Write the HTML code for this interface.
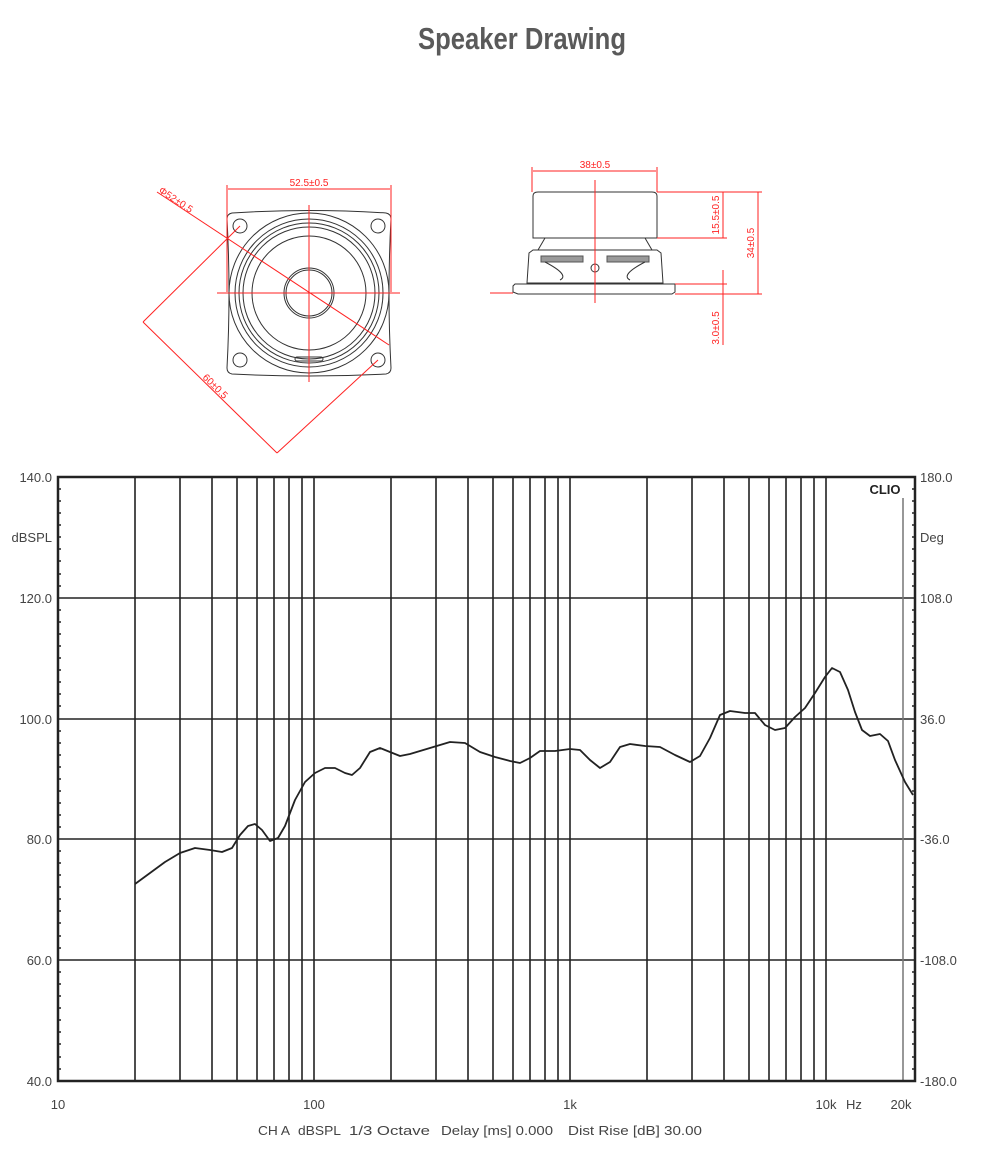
<!DOCTYPE html>
<html><head><meta charset="utf-8"><style>
html,body{margin:0;padding:0;background:#fff;}
svg{display:block;}
text{font-family:"Liberation Sans",Arial,sans-serif;}
</style></head><body>
<svg width="991" height="1149" viewBox="0 0 991 1149" xmlns="http://www.w3.org/2000/svg">
<text x="522" y="49" text-anchor="middle" font-family="Liberation Sans Narrow, Liberation Sans, sans-serif" font-weight="bold" font-size="31" fill="#5a5a5a" textLength="208" lengthAdjust="spacingAndGlyphs">Speaker Drawing</text>

<!-- Front view -->
<g fill="none" stroke="#333" stroke-width="1">
<path d="M232,213 Q309,208 386,213 Q391,214 391,219 Q387,293 391,368 Q391,373 386,374 Q309,378 232,374 Q227,373 227,368 Q231,293 227,219 Q227,214 232,213 Z"/>
<circle cx="309" cy="293" r="80"/>
<circle cx="309" cy="293" r="74"/>
<circle cx="309" cy="293" r="70"/>
<circle cx="309" cy="293" r="66"/>
<circle cx="309" cy="293" r="57"/>
<circle cx="309" cy="293" r="25"/>
<circle cx="309" cy="293" r="23"/>
<circle cx="240" cy="226" r="7"/>
<circle cx="378" cy="226" r="7"/>
<circle cx="240" cy="360" r="7"/>
<circle cx="378" cy="360" r="7"/>
<rect x="295" y="357" width="28" height="4" rx="2"/>
</g>
<g stroke="#f22" stroke-width="1" fill="none">
<line x1="309" y1="205" x2="309" y2="382"/>
<line x1="217" y1="293" x2="400" y2="293"/>
<line x1="227" y1="185" x2="227" y2="292"/>
<line x1="391" y1="185" x2="391" y2="292"/>
<line x1="228" y1="189" x2="390" y2="189"/>
<line x1="157" y1="192" x2="389" y2="345"/>
<line x1="143" y1="322" x2="240" y2="226"/>
<line x1="277" y1="453" x2="378" y2="360"/>
<line x1="143" y1="322" x2="277" y2="453"/>
</g>
<g fill="#f22" font-size="10">
<text x="309" y="186" text-anchor="middle">52.5±0.5</text>
<text x="158" y="192" transform="rotate(33.4 158 192)">Φ52±0.5</text>
<text x="202" y="378" transform="rotate(44.4 202 378)">60±0.5</text>
</g>

<!-- Side view -->
<g fill="none" stroke="#333" stroke-width="1">
<path d="M533,238 L533,196 Q533,192 538,192 L652,192 Q657,192 657,196 L657,238 Z"/>
<path d="M545,238 L538,250 M645,238 L652,250"/>
<path d="M529,253 L533,250 L657,250 L661,253 L663,283 L527,283 Z"/>
<path d="M515,284 L675,284 L675,292 L672,294 L518,294 L513,292 L513,286 Z"/>
<rect x="541" y="256" width="42" height="6" fill="#999" stroke="#555"/>
<rect x="607" y="256" width="42" height="6" fill="#999" stroke="#555"/>
<circle cx="595" cy="268" r="4"/>
<path d="M545,262 Q570,275 560,280 M645,262 Q620,275 630,280"/>
</g>
<g stroke="#f22" stroke-width="1" fill="none">
<line x1="595" y1="180" x2="595" y2="303"/>
<line x1="490" y1="293" x2="513" y2="293"/>
<line x1="532" y1="167" x2="532" y2="192"/>
<line x1="657" y1="167" x2="657" y2="192"/>
<line x1="533" y1="171" x2="656" y2="171"/>
<line x1="657" y1="192" x2="762" y2="192"/>
<line x1="657" y1="238" x2="727" y2="238"/>
<line x1="675" y1="284" x2="727" y2="284"/>
<line x1="675" y1="294" x2="762" y2="294"/>
<line x1="723" y1="192" x2="723" y2="238"/>
<line x1="758" y1="192" x2="758" y2="294"/>
<line x1="723" y1="270" x2="723" y2="345"/>
</g>
<g fill="#f22" font-size="10">
<text x="595" y="168" text-anchor="middle">38±0.5</text>
<text x="719" y="215" text-anchor="middle" transform="rotate(-90 719 215)">15.5±0.5</text>
<text x="754" y="243" text-anchor="middle" transform="rotate(-90 754 243)">34±0.5</text>
<text x="719" y="328" text-anchor="middle" transform="rotate(-90 719 328)">3.0±0.5</text>
</g>

<!-- Chart -->
<g stroke="#222" stroke-width="1.6">
<line x1="135" y1="477" x2="135" y2="1081"/><line x1="180" y1="477" x2="180" y2="1081"/><line x1="212" y1="477" x2="212" y2="1081"/><line x1="237" y1="477" x2="237" y2="1081"/><line x1="257" y1="477" x2="257" y2="1081"/><line x1="274" y1="477" x2="274" y2="1081"/><line x1="289" y1="477" x2="289" y2="1081"/><line x1="302" y1="477" x2="302" y2="1081"/><line x1="314" y1="477" x2="314" y2="1081"/>
<line x1="391" y1="477" x2="391" y2="1081"/><line x1="436" y1="477" x2="436" y2="1081"/><line x1="468" y1="477" x2="468" y2="1081"/><line x1="493" y1="477" x2="493" y2="1081"/><line x1="513" y1="477" x2="513" y2="1081"/><line x1="530" y1="477" x2="530" y2="1081"/><line x1="545" y1="477" x2="545" y2="1081"/><line x1="558" y1="477" x2="558" y2="1081"/><line x1="570" y1="477" x2="570" y2="1081"/>
<line x1="647" y1="477" x2="647" y2="1081"/><line x1="692" y1="477" x2="692" y2="1081"/><line x1="724" y1="477" x2="724" y2="1081"/><line x1="749" y1="477" x2="749" y2="1081"/><line x1="769" y1="477" x2="769" y2="1081"/><line x1="786" y1="477" x2="786" y2="1081"/><line x1="801" y1="477" x2="801" y2="1081"/><line x1="814" y1="477" x2="814" y2="1081"/><line x1="826" y1="477" x2="826" y2="1081"/>
<line x1="58" y1="598" x2="915" y2="598"/><line x1="58" y1="719" x2="915" y2="719"/><line x1="58" y1="839" x2="915" y2="839"/><line x1="58" y1="960" x2="915" y2="960"/>
</g>
<line x1="903" y1="498" x2="903" y2="1081" stroke="#777" stroke-width="1.5"/>
<rect x="58" y="477" width="857" height="604" fill="none" stroke="#222" stroke-width="2.5"/>
<g stroke="#222" stroke-width="1.5">
<path d="M58,489h3M58,501h3M58,513h3M58,525h3M58,537h3M58,549h3M58,561h3M58,574h3M58,586h3M58,610h3M58,622h3M58,634h3M58,646h3M58,658h3M58,670h3M58,682h3M58,694h3M58,706h3M58,731h3M58,743h3M58,755h3M58,767h3M58,779h3M58,791h3M58,803h3M58,815h3M58,827h3M58,851h3M58,863h3M58,875h3M58,887h3M58,899h3M58,911h3M58,923h3M58,936h3M58,948h3M58,972h3M58,984h3M58,996h3M58,1008h3M58,1020h3M58,1032h3M58,1044h3M58,1057h3M58,1069h3"/>
<path d="M915,489h-3M915,501h-3M915,513h-3M915,525h-3M915,537h-3M915,549h-3M915,561h-3M915,574h-3M915,586h-3M915,610h-3M915,622h-3M915,634h-3M915,646h-3M915,658h-3M915,670h-3M915,682h-3M915,694h-3M915,706h-3M915,731h-3M915,743h-3M915,755h-3M915,767h-3M915,779h-3M915,791h-3M915,803h-3M915,815h-3M915,827h-3M915,851h-3M915,863h-3M915,875h-3M915,887h-3M915,899h-3M915,911h-3M915,923h-3M915,936h-3M915,948h-3M915,972h-3M915,984h-3M915,996h-3M915,1008h-3M915,1020h-3M915,1032h-3M915,1044h-3M915,1057h-3M915,1069h-3"/>
</g>
<polyline fill="none" stroke="#222" stroke-width="1.8" stroke-linejoin="round" points="135,884 150,873 165,862 180,853 195,848 210,850 222,852 232,848 240,835 248,826 255,824 262,830 270,841 278,838 285,826 295,800 305,782 315,773 325,768 335,768 345,773 352,775 360,768 370,752 380,748 390,752 400,756 410,754 430,748 450,742 465,743 480,752 495,757 510,761 520,763 530,758 540,751 555,751 570,749 580,750 590,760 600,768 610,762 620,747 630,744 645,746 660,747 675,755 690,762 700,756 710,738 720,715 730,711 745,713 755,713 765,725 775,730 785,728 795,717 805,708 815,693 825,677 832,668 840,672 848,690 855,712 862,730 870,736 880,734 888,741 895,760 905,782 913,795"/>
<text x="885" y="494" font-size="13" font-weight="bold" fill="#222" text-anchor="middle">CLIO</text>
<g font-size="13" fill="#444">
<text x="52" y="482" text-anchor="end">140.0</text>
<text x="52" y="542" text-anchor="end">dBSPL</text>
<text x="52" y="603" text-anchor="end">120.0</text>
<text x="52" y="724" text-anchor="end">100.0</text>
<text x="52" y="844" text-anchor="end">80.0</text>
<text x="52" y="965" text-anchor="end">60.0</text>
<text x="52" y="1086" text-anchor="end">40.0</text>
<text x="920" y="482">180.0</text>
<text x="920" y="542">Deg</text>
<text x="920" y="603">108.0</text>
<text x="920" y="724">36.0</text>
<text x="920" y="844">-36.0</text>
<text x="920" y="965">-108.0</text>
<text x="920" y="1086">-180.0</text>
<text x="58" y="1109" text-anchor="middle">10</text>
<text x="314" y="1109" text-anchor="middle">100</text>
<text x="570" y="1109" text-anchor="middle">1k</text>
<text x="826" y="1109" text-anchor="middle">10k</text>
<text x="854" y="1109" text-anchor="middle">Hz</text>
<text x="901" y="1109" text-anchor="middle">20k</text>
<text x="258" y="1135" font-size="13" textLength="32" lengthAdjust="spacingAndGlyphs">CH A</text>
<text x="298" y="1135" font-size="13" textLength="43" lengthAdjust="spacingAndGlyphs">dBSPL</text>
<text x="349" y="1135" font-size="13" textLength="81" lengthAdjust="spacingAndGlyphs">1/3 Octave</text>
<text x="441" y="1135" font-size="13" textLength="112" lengthAdjust="spacingAndGlyphs">Delay [ms] 0.000</text>
<text x="568" y="1135" font-size="13" textLength="134" lengthAdjust="spacingAndGlyphs">Dist Rise [dB] 30.00</text>
</g>
</svg>
</body></html>
